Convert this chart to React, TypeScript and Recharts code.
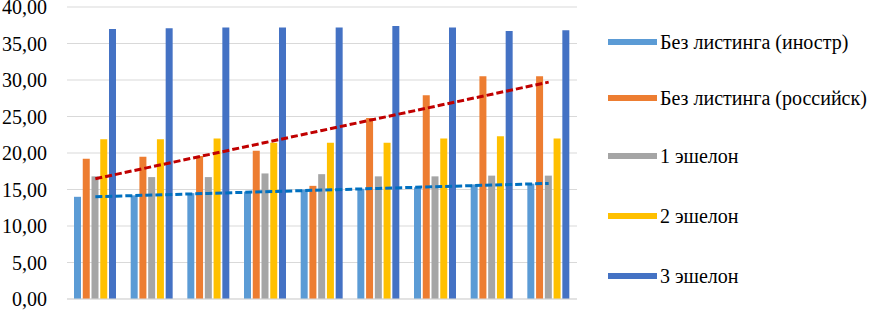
import { ComposedChart, Bar, Line, XAxis, YAxis, CartesianGrid } from 'recharts';

const periods = ['1', '2', '3', '4', '5', '6', '7', '8', '9'];
const noListingForeign = [14.0, 14.2, 14.5, 14.7, 15.0, 15.1, 15.3, 15.7, 15.8];
const noListingRussian = [19.2, 19.5, 19.6, 20.3, 15.5, 24.8, 27.9, 30.5, 30.5];
const tier1 = [16.8, 16.7, 16.7, 17.2, 17.1, 16.8, 16.8, 16.9, 16.9];
const tier2 = [21.9, 21.9, 22.0, 21.4, 21.4, 21.4, 22.0, 22.3, 22.0];
const tier3 = [37.0, 37.1, 37.2, 37.2, 37.2, 37.4, 37.2, 36.7, 36.8];
const yTicks = [0, 5, 10, 15, 20, 25, 30, 35, 40];

const SERIES = [
  { key: 'foreign', name: 'Без листинга (иностр)', color: '#5B9BD5' },
  { key: 'russian', name: 'Без листинга (российск)', color: '#ED7D31' },
  { key: 't1', name: '1 эшелон', color: '#A5A5A5' },
  { key: 't2', name: '2 эшелон', color: '#FFC000' },
  { key: 't3', name: '3 эшелон', color: '#4472C4' },
];

// linear least-squares trend, like Excel's trendline
function trend(values: number[]) {
  const n = values.length;
  const mx = (n + 1) / 2;
  const my = values.reduce((a, b) => a + b, 0) / n;
  let sxy = 0, sxx = 0;
  values.forEach((v, i) => { sxy += (i + 1 - mx) * (v - my); sxx += (i + 1 - mx) ** 2; });
  const k = sxy / sxx;
  return values.map((_, i) => my + k * (i + 1 - mx));
}

const trendForeign = trend(noListingForeign);
const trendRussian = trend(noListingRussian);

const data = periods.map((p, i) => ({
  period: p,
  foreign: noListingForeign[i],
  russian: noListingRussian[i],
  t1: tier1[i],
  t2: tier2[i],
  t3: tier3[i],
  trendF: trendForeign[i],
  trendR: trendRussian[i],
}));

const FONT = 'Liberation Serif, Tinos, DejaVu Serif, serif';

export default function App() {
  return (
    <div style={{ position: 'absolute', left: 0, top: 0, width: 887, height: 310, background: '#fff' }}>
      <ComposedChart width={887} height={310} data={data} margin={{ top: 7, right: 310, left: 0, bottom: 10 }}
        barGap={1.75} barCategoryGap="13%">
        <CartesianGrid vertical={false} stroke="#D9D9D9" />
        <XAxis dataKey="period" tick={false} tickLine={false} axisLine={{ stroke: '#D9D9D9' }} height={1} />
        <YAxis domain={[0, 40]} ticks={yTicks} interval={0} width={67} axisLine={false} tickLine={false} tickSize={0} tickMargin={20}
          tickFormatter={(v: number) => v.toFixed(2).replace('.', ',')}
          tick={{ fontSize: 20, fill: '#000', fontFamily: FONT }} />
        {SERIES.map((s) => (
          <Bar key={s.key} dataKey={s.key} name={s.name} fill={s.color} barSize={7} isAnimationActive={false} />
        ))}
        <Line dataKey="trendR" stroke="#C00000" strokeWidth={3} strokeDasharray="7 3" dot={false} isAnimationActive={false} />
        <Line dataKey="trendF" stroke="#0070C0" strokeWidth={3} strokeDasharray="7 3" dot={false} isAnimationActive={false} />
      </ComposedChart>
      <div style={{ position: 'absolute', left: 608, top: 0, fontFamily: FONT, fontSize: 20, color: '#000' }}>
        {SERIES.map((s, i) => (
          <div key={s.key} style={{ position: 'absolute', top: [42, 98, 156, 216, 276][i] - 12, display: 'flex', alignItems: 'center', whiteSpace: 'nowrap' }}>
            <span style={{ display: 'inline-block', width: 49, height: 6, background: s.color, marginRight: 3 }} />
            <span style={{ lineHeight: '24px' }}>{s.name}</span>
          </div>
        ))}
      </div>
    </div>
  );
}
